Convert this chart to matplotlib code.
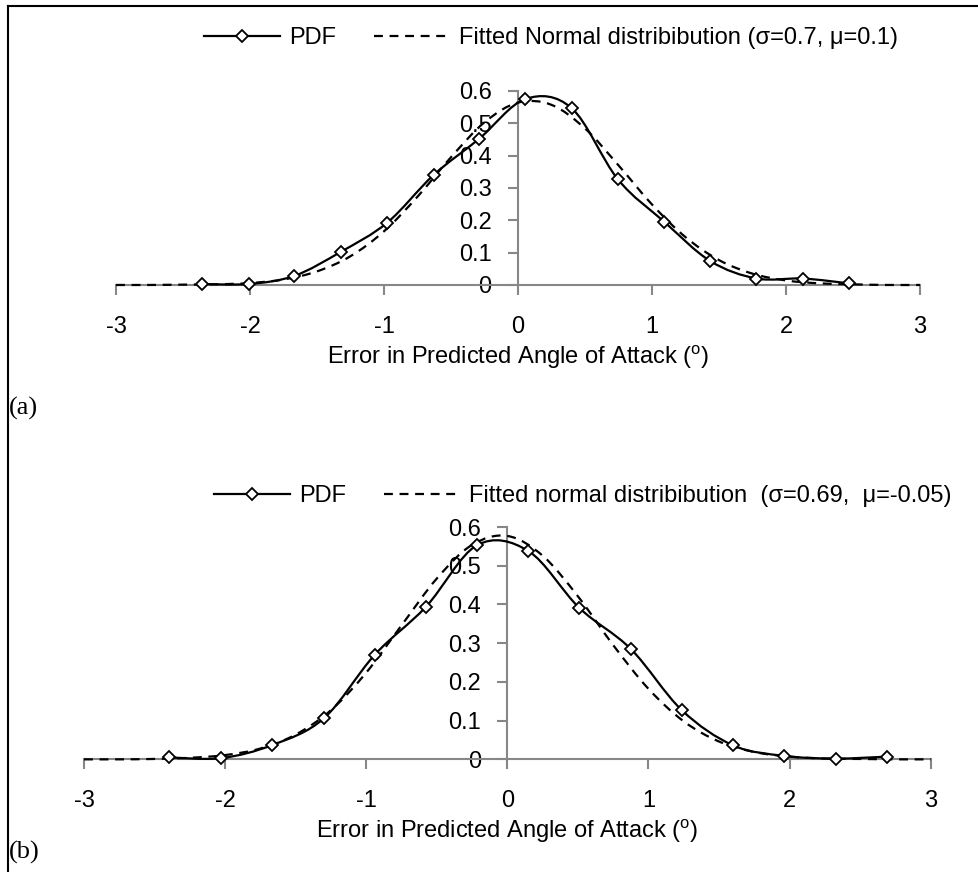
import numpy as np
import matplotlib
matplotlib.use("Agg")
import matplotlib.pyplot as plt
from matplotlib.path import Path
from matplotlib.patches import PathPatch
from matplotlib.lines import Line2D

plt.rcParams['font.family'] = ['Liberation Sans', 'DejaVu Sans']
plt.rcParams['mathtext.fontset'] = 'custom'
plt.rcParams['mathtext.rm'] = 'Liberation Sans'

# --- data ---
# (a)
pdf_a_x = [-2.36, -2.01, -1.67, -1.32, -0.975, -0.63, -0.29, 0.055,
           0.40, 0.745, 1.09, 1.435, 1.78, 2.125, 2.47]
pdf_a_y = [0.003, 0.003, 0.028, 0.103, 0.193, 0.340, 0.452, 0.575,
           0.547, 0.327, 0.196, 0.074, 0.020, 0.020, 0.005]
fit_a_x = [-3, -2.75, -2.5, -2.25, -2, -1.75, -1.5, -1.25, -1, -0.75, -0.5, -0.25, 0,
           0.25, 0.5, 0.75, 1, 1.25, 1.5, 1.75, 2, 2.25, 2.5, 2.75, 3]
fit_a_y = [0.000, 0.000, 0.001, 0.002, 0.006, 0.017, 0.042, 0.089, 0.166, 0.273, 0.395,
           0.503, 0.564, 0.557, 0.484, 0.370, 0.249, 0.148, 0.077, 0.035, 0.014,
           0.005, 0.002, 0.000, 0.000]
label_a = "Fitted Normal distribibution (\u03c3=0.7, \u03bc=0.1)"

# (b)
pdf_b_x = [-2.395, -2.03, -1.665, -1.30, -0.94, -0.577, -0.215, 0.149,
           0.51, 0.875, 1.236, 1.60, 1.96, 2.326, 2.69]
pdf_b_y = [0.005, 0.003, 0.037, 0.106, 0.270, 0.394, 0.553, 0.538,
           0.391, 0.285, 0.127, 0.036, 0.009, 0.002, 0.007]
fit_b_x = fit_a_x
fit_b_y = [0.000, 0.000, 0.001, 0.004, 0.011, 0.028, 0.064, 0.127, 0.224, 0.346, 0.467,
           0.554, 0.577, 0.526, 0.421, 0.295, 0.182, 0.098, 0.046, 0.019, 0.007,
           0.002, 0.001, 0.000, 0.000]
label_b = "Fitted normal distribibution  (\u03c3=0.69,  \u03bc=-0.05)"

xticks = [-3, -2, -1, 0, 1, 2, 3]
yticks = [0, 0.1, 0.2, 0.3, 0.4, 0.5, 0.6]
ytick_labels = ["0", "0.1", "0.2", "0.3", "0.4", "0.5", "0.6"]
xlabel = "Error in Predicted Angle of Attack ($^{\\mathrm{o}}$)"

FS = 17
AXIS_GREY = "#878787"


def smooth_path(xs, ys):
    # excel-like smoothed line: cubic bezier through the points
    pts = np.column_stack([xs, ys]).astype(float)
    n = len(pts)
    verts = [pts[0]]
    codes = [Path.MOVETO]
    for i in range(n - 1):
        p0 = pts[i - 1] if i > 0 else pts[i]
        p1 = pts[i]
        p2 = pts[i + 1]
        p3 = pts[i + 2] if i + 2 < n else pts[i + 1]
        c1 = p1 + (p2 - p0) / 6.0
        c2 = p2 - (p3 - p1) / 6.0
        verts += [c1, c2, p2]
        codes += [Path.CURVE4] * 3
    return Path(verts, codes)


def draw_panel(ax, px, py, fx, fy, fit_label, leg_xy):
    ax.add_patch(PathPatch(smooth_path(fx, fy), fill=False, edgecolor='black',
                           lw=1.6, linestyle=(0, (4, 3)), clip_on=False, zorder=3))
    ax.add_patch(PathPatch(smooth_path(px, py), fill=False, edgecolor='black',
                           lw=1.6, clip_on=False, zorder=4))
    ax.plot(px, py, linestyle='none', marker='D', ms=6.5, mfc='white',
            mec='black', mew=1.3, clip_on=False, zorder=5)

    ax.set_xlim(-3, 3)
    ax.set_ylim(0, 0.6)
    for s in ['top', 'right']:
        ax.spines[s].set_visible(False)
    ax.spines['left'].set_position(('data', 0))
    ax.spines['left'].set_color(AXIS_GREY)
    ax.spines['bottom'].set_color(AXIS_GREY)
    ax.spines['left'].set_linewidth(1.5)
    ax.spines['bottom'].set_linewidth(1.5)
    ax.set_xticks(xticks)
    ax.set_xticklabels([str(t) for t in xticks])
    ax.set_yticks(yticks)
    ax.set_yticklabels(ytick_labels)
    ax.tick_params(axis='x', direction='out', length=7, width=1.5, color=AXIS_GREY,
                   pad=15, labelsize=FS)
    ax.tick_params(axis='y', direction='out', length=7, width=1.5, color=AXIS_GREY,
                   pad=12, labelsize=FS)
    ax.set_xlabel(xlabel, fontsize=FS, labelpad=4)
    ax.patch.set_visible(False)

    h1 = Line2D([], [], color='black', lw=1.6, marker='D', ms=6.5, mfc='white',
                mec='black', mew=1.3)
    h2 = Line2D([], [], color='black', lw=1.6, linestyle=(0, (4, 3)))
    ax.legend([h1, h2], ["PDF", fit_label], loc='center', ncol=2, frameon=False,
              fontsize=FS, handlelength=3.2, handletextpad=0.4, columnspacing=1.6,
              numpoints=1, bbox_to_anchor=leg_xy, bbox_transform=fig.transFigure)


fig = plt.figure(figsize=(9.79, 8.72), dpi=100)

ax_a = fig.add_axes([0.1185, 0.6732, 0.8212, 0.2225])
draw_panel(ax_a, pdf_a_x, pdf_a_y, fit_a_x, fit_a_y, label_a, (0.563, 0.956))

ax_b = fig.add_axes([0.0858, 0.1292, 0.8649, 0.2664])
draw_panel(ax_b, pdf_b_x, pdf_b_y, fit_b_x, fit_b_y, label_b, (0.5955, 0.431))

fig.text(0.009, 1 - 408 / 872, "(a)", family='Liberation Serif', fontsize=19, va='center')
fig.text(0.009, 1 - 852 / 872, "(b)", family='Liberation Serif', fontsize=19, va='center')

# page frame lines (top and left only)
fig.add_artist(Line2D([8 / 979, 1], [1 - 6 / 872, 1 - 6 / 872], color='black', lw=1.5,
                      transform=fig.transFigure))
fig.add_artist(Line2D([8 / 979, 8 / 979], [0, 1 - 6 / 872], color='black', lw=1.5,
                      transform=fig.transFigure))

fig.savefig("out.png", dpi=100)
